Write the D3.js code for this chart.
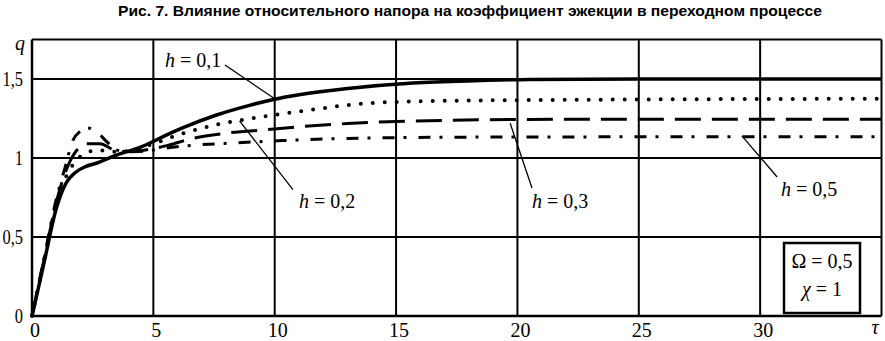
<!DOCTYPE html>
<html><head><meta charset="utf-8">
<script src="https://cdn.jsdelivr.net/npm/d3@7/dist/d3.min.js"></script>
<style>
html,body{margin:0;padding:0;background:#fff;}
svg{display:block;}
</style></head>
<body>
<svg id="chart" width="885" height="341"></svg>
<script>
// ---- data ----
const title = "Рис. 7. Влияние относительного напора на коэффициент эжекции в переходном процессе";
const xTicks = [0, 5, 10, 15, 20, 25, 30];
const yTicks = [0, 0.5, 1, 1.5];
const yTickLabels = ["0", "0,5", "1", "1,5"];

const tau01 = [0, 0.5, 1.0, 1.4, 1.8, 2.2, 2.7, 3.5, 4.5, 5.0, 5.4, 6.2, 7.6, 9, 10, 11, 13, 15.7, 18.5, 20.5, 25, 35];
const q01   = [0, 0.34, 0.68, 0.84, 0.91, 0.945, 0.97, 1.02, 1.07, 1.105, 1.135, 1.19, 1.272, 1.335, 1.372, 1.40, 1.44, 1.475, 1.49, 1.497, 1.5, 1.5];

const tau02 = [0, 0.5, 1.0, 1.4, 1.8, 2.2, 2.7, 3.3, 4, 5, 6, 6.8, 7.7, 8.6, 9.5, 10.3, 11.6, 13, 15.7, 21, 35];
const q02   = [0, 0.35, 0.70, 0.88, 0.98, 1.03, 1.05, 1.04, 1.045, 1.09, 1.145, 1.18, 1.215, 1.24, 1.262, 1.28, 1.307, 1.335, 1.358, 1.367, 1.375];

const tau03 = [0, 0.5, 1.0, 1.4, 1.8, 2.2, 2.8, 3.4, 4, 5, 5.6, 6.5, 8, 9.7, 10.8, 13, 17, 22, 35];
const q03   = [0, 0.36, 0.72, 0.92, 1.04, 1.09, 1.09, 1.05, 1.04, 1.06, 1.08, 1.12, 1.157, 1.18, 1.195, 1.218, 1.238, 1.245, 1.245];

const tau05 = [0, 0.5, 1.0, 1.4, 1.65, 2.0, 2.3, 2.7, 3.1, 3.5, 4, 5, 5.4, 6.6, 8.3, 10.3, 14, 20, 35];
const q05   = [0, 0.37, 0.74, 0.96, 1.10, 1.17, 1.19, 1.16, 1.10, 1.05, 1.04, 1.05, 1.06, 1.08, 1.095, 1.11, 1.127, 1.133, 1.135];

const seriesNames = ["h = 0,1", "h = 0,2", "h = 0,3", "h = 0,5"];
const paramLines = ["Ω = 0,5", "χ = 1"];

// ---- layout ----
const svg = d3.select("#chart");
const L = 32, R = 881.5, T = 39.5, B = 316;
const x = d3.scaleLinear().domain([0, 35]).range([L, R]);
const y = d3.scaleLinear().domain([0, 1.75]).range([B, T]);
const serif = "'Liberation Serif','Times New Roman',serif";

// title
svg.append("text").attr("x", 118).attr("y", 15.5)
  .attr("textLength", 704).attr("lengthAdjust", "spacingAndGlyphs")
  .style("font-family", "'Liberation Sans Narrow','Liberation Sans',Arial,sans-serif")
  .style("font-weight", "bold").style("font-size", "14.5px")
  .text(title);

// grid
const g = svg.append("g");
g.selectAll("line.vx").data(xTicks.filter(d => d > 0)).join("line")
  .attr("x1", d => x(d)).attr("x2", d => x(d)).attr("y1", T).attr("y2", B)
  .attr("stroke", "#000").attr("stroke-width", 2);
g.selectAll("line.hy").data(yTicks.filter(d => d > 0)).join("line")
  .attr("x1", L).attr("x2", R).attr("y1", d => y(d)).attr("y2", d => y(d))
  .attr("stroke", "#000").attr("stroke-width", 2);
// frame
g.append("line").attr("x1", L).attr("x2", R).attr("y1", T).attr("y2", T).attr("stroke", "#000").attr("stroke-width", 1.8);
g.append("line").attr("x1", R).attr("x2", R).attr("y1", T).attr("y2", B).attr("stroke", "#000").attr("stroke-width", 2);
g.append("line").attr("x1", L).attr("x2", R).attr("y1", B).attr("y2", B).attr("stroke", "#000").attr("stroke-width", 2.5);
g.append("line").attr("x1", L).attr("x2", L).attr("y1", T).attr("y2", B).attr("stroke", "#000").attr("stroke-width", 2.5);

// tick labels
svg.selectAll("text.xt").data(xTicks).join("text")
  .attr("x", d => x(d) + 3).attr("y", 337).attr("text-anchor", "middle")
  .style("font-family", serif).style("font-size", "20px").text(d => d);
svg.selectAll("text.yt").data(yTicks).join("text")
  .attr("transform", d => `translate(23,${y(d) + 7}) scale(0.82,1)`)
  .attr("text-anchor", "end")
  .style("font-family", serif).style("font-size", "20px").text((d, i) => yTickLabels[i]);
svg.append("text").attr("x", 20).attr("y", 50).attr("text-anchor", "middle")
  .style("font-family", serif).style("font-style", "italic").style("font-size", "20px").text("q");
svg.append("text").attr("x", 875).attr("y", 334).attr("text-anchor", "middle")
  .style("font-family", serif).style("font-style", "italic").style("font-size", "20px").text("τ");

// curves
const line = d3.line().x(d => x(d[0])).y(d => y(d[1])).curve(d3.curveMonotoneX);
const zip = (a, b) => a.map((v, i) => [v, b[i]]);
const curves = [
  {pts: zip(tau05, q05), w: 3, dash: "12 9 3 12", cap: "butt"},
  {pts: zip(tau03, q03), w: 3, dash: "26 11", cap: "butt"},
  {pts: zip(tau02, q02), w: 4, dash: "0 12", cap: "round"},
  {pts: zip(tau01, q01), w: 3.5, dash: null, cap: "butt"}
];
svg.selectAll("path.c").data(curves).join("path")
  .attr("d", d => line(d.pts)).attr("fill", "none").attr("stroke", "#000")
  .attr("stroke-width", d => d.w).attr("stroke-dasharray", d => d.dash)
  .attr("stroke-linecap", d => d.cap).attr("stroke-linejoin", "round");

// annotations (leader lines in data units)
const ann = [
  {name: seriesNames[0], a: [7.95, 1.589], b: [10.0, 1.375], tx: 165, ty: 67},
  {name: seriesNames[1], a: [8.55, 1.235], b: [10.75, 0.80], tx: 299, ty: 208},
  {name: seriesNames[2], a: [19.7, 1.22], b: [20.6, 0.81], tx: 532, ty: 208},
  {name: seriesNames[3], a: [29.25, 1.14], b: [30.7, 0.88], tx: 781, ty: 196}
];
ann.forEach(d => {
  svg.append("line").attr("x1", x(d.a[0])).attr("y1", y(d.a[1]))
    .attr("x2", x(d.b[0])).attr("y2", y(d.b[1])).attr("stroke", "#000").attr("stroke-width", 1.3);
  const t = svg.append("text").attr("x", d.tx).attr("y", d.ty)
    .style("font-family", serif).style("font-size", "20px");
  t.append("tspan").style("font-style", "italic").text("h");
  t.append("tspan").text(d.name.slice(1));
});

// parameter box
svg.append("rect").attr("x", 784).attr("y", 243).attr("width", 76).attr("height", 70)
  .attr("fill", "#fff").attr("stroke", "#000").attr("stroke-width", 2.5);
svg.append("text").attr("x", 822).attr("y", 268).attr("text-anchor", "middle")
  .style("font-family", serif).style("font-size", "20px").text(paramLines[0]);
const t2 = svg.append("text").attr("x", 822).attr("y", 296).attr("text-anchor", "middle")
  .style("font-family", serif).style("font-size", "20px");
t2.append("tspan").style("font-style", "italic").text("χ");
t2.append("tspan").text(" " + paramLines[1].slice(1));
</script>
</body></html>
